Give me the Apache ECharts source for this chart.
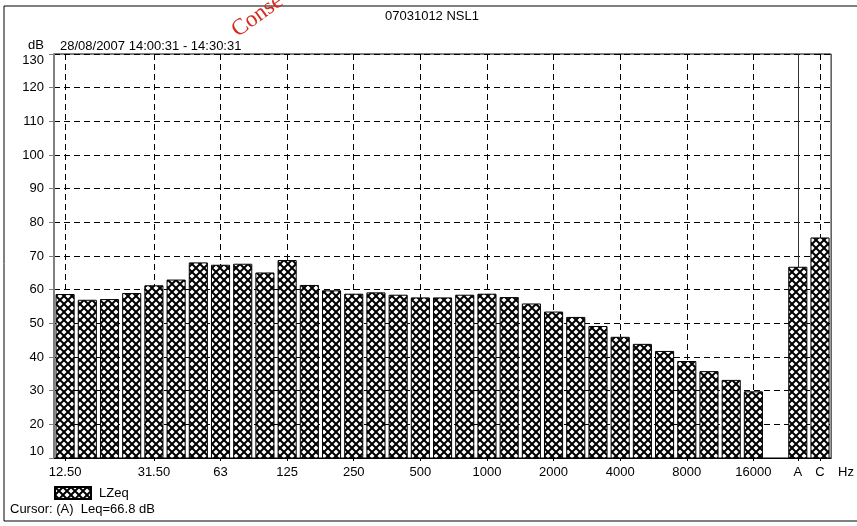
<!DOCTYPE html>
<html>
<head>
<meta charset="utf-8">
<script src="https://cdn.jsdelivr.net/npm/echarts@6/dist/echarts.min.js"></script>
<style>
html,body{margin:0;padding:0;background:#fff;}
#chart{width:857px;height:526px;}
</style>
</head>
<body>
<div id="chart"></div>
<script>
// ---- data ----
const categories = ['12.50','16','20','25','31.50','40','50','63','80','100','125','160','200','250','315','400','500','630','800','1000','1250','1600','2000','2500','3150','4000','5000','6300','8000','10000','12500','16000','20000','A','C'];
const lzeq = [58.7,57.0,57.2,59.0,61.3,63.0,68.1,67.4,67.7,65.1,68.8,61.4,59.8,58.8,59.2,58.5,57.7,57.7,58.5,58.8,57.8,55.9,53.5,51.9,49.2,46.0,43.9,41.8,38.8,35.8,33.2,29.8,null,66.8,75.5];
const shownLabels = ['12.50','31.50','63','125','250','500','1000','2000','4000','8000','16000','A','C'];
const cursorBand = 'A';
const titleText = '07031012 NSL1';
const periodText = '28/08/2007 14:00:31 - 14:30:31';
const cursorText = 'Cursor: (A)  Leq=66.8 dB';
const seriesName = 'LZeq';
const watermarkText = 'Conse';

// ---- crosshatch pattern ----
function makePattern(){
  const s = 8;
  const c = document.createElement('canvas');
  c.width = s; c.height = s;
  const g = c.getContext('2d');
  g.fillStyle = '#fff'; g.fillRect(0,0,s,s);
  g.strokeStyle = '#000'; g.lineWidth = 2;
  g.beginPath();
  g.moveTo(-2,-2); g.lineTo(s+2,s+2);
  g.moveTo(s+2,-2); g.lineTo(-2,s+2);
  g.stroke();
  return c;
}
const pattern = {image: makePattern(), repeat: 'repeat'};

const font = 'Liberation Sans, Arial, sans-serif';
const isShown = (idx) => shownLabels.indexOf(categories[idx]) >= 0;

const chart = echarts.init(document.getElementById('chart'), null, {renderer:'canvas'});
chart.setOption({
  animation: false,
  backgroundColor: '#fff',
  title: [
    {text: titleText, left: 385, top: 10, padding: 0,
     textStyle: {fontFamily: font, fontSize: 13, fontWeight: 'normal', color: '#000'}},
    {text: periodText, left: 60, top: 40, padding: 0,
     textStyle: {fontFamily: font, fontSize: 13, fontWeight: 'normal', color: '#000'}}
  ],
  legend: {
    left: 54, top: 486, padding: 0,
    itemWidth: 36, itemHeight: 12, itemGap: 8,
    icon: 'rect',
    data: [seriesName],
    textStyle: {fontFamily: font, fontSize: 13, color: '#000', padding: [0,0,0,3]}
  },
  grid: {left: 54, right: 21.5, top: 54, bottom: 68, show: true, borderColor: '#000', borderWidth: 1, containLabel: false},
  xAxis: {
    type: 'category',
    data: categories,
    boundaryGap: true,
    name: 'Hz',
    nameLocation: 'end',
    nameGap: 7,
    nameTextStyle: {fontFamily: font, fontSize: 13, color: '#000', verticalAlign: 'top', padding: [8,0,0,0]},
    axisLine: {lineStyle: {color: '#000', width: 1}},
    axisTick: {show: true, alignWithLabel: true, length: 3, interval: (i) => isShown(i), lineStyle: {color: '#000'}},
    axisLabel: {interval: (i) => isShown(i), fontFamily: font, fontSize: 13, color: '#000', margin: 8},
    splitLine: {show: true, alignWithLabel: true, interval: (i) => isShown(i) && categories[i] !== cursorBand,
      lineStyle: {color: '#000', type: [6,4], width: 1}}
  },
  yAxis: {
    type: 'value',
    min: 10, max: 130, interval: 10,
    name: 'dB',
    nameLocation: 'end',
    nameGap: 2,
    nameTextStyle: {fontFamily: font, fontSize: 13, color: '#000', align: 'right', padding: [0,10,0,0]},
    axisLine: {show: true, lineStyle: {color: '#808080', width: 2}},
    axisTick: {show: true, length: 5, lineStyle: {color: '#808080'}},
    axisLabel: {fontFamily: font, fontSize: 13, color: '#000', margin: 10,
      verticalAlignMinLabel: 'bottom', verticalAlignMaxLabel: 'top'},
    splitLine: {show: true, lineStyle: {color: '#000', type: [6,4], width: 1}}
  },
  series: [{
    name: seriesName,
    type: 'bar',
    data: lzeq,
    barCategoryGap: '14%',
    itemStyle: {color: pattern, borderColor: '#000', borderWidth: 1},
    markLine: {
      silent: true, symbol: 'none', z: 1,
      label: {show: false},
      lineStyle: {color: '#333', type: 'solid', width: 1},
      data: [{xAxis: cursorBand}]
    }
  }],
  graphic: [
    {type: 'rect', shape: {x: 4, y: 6, width: 900, height: 515}, style: {fill: 'none', stroke: '#000', lineWidth: 1}, silent: true},
    {type: 'text', x: 10, y: 503, style: {text: cursorText, font: '13px ' + font, fill: '#000'}},
    {type: 'text', x: 241, y: 42, rotation: 0.63, style: {text: watermarkText, font: '23px Liberation Serif, Times New Roman, serif', fill: '#d42a1c', textVerticalAlign: 'bottom'}}
  ]
});
</script>
</body>
</html>
